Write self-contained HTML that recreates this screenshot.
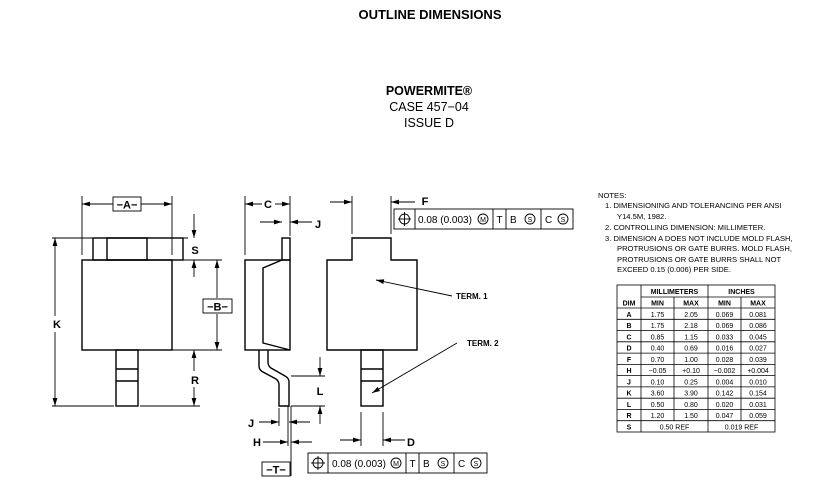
<!DOCTYPE html>
<html><head><meta charset="utf-8"><style>
html,body{margin:0;padding:0;background:#fff;}
svg{display:block;}
text{font-family:"Liberation Sans",Arial,sans-serif;fill:#000;}
</style></head><body>
<svg width="828" height="497" viewBox="0 0 828 497" xmlns="http://www.w3.org/2000/svg">
<defs>
<marker id="a" viewBox="0 0 10 6" refX="10" refY="3" markerWidth="8" markerHeight="5" orient="auto" markerUnits="userSpaceOnUse"><path d="M0,0 L10,3 L0,6z" fill="#000"/></marker>
</defs>
<text x="430" y="19" font-size="13" font-weight="bold" text-anchor="middle">OUTLINE DIMENSIONS</text>
<text x="429" y="95" font-size="12.5" font-weight="bold" text-anchor="middle">POWERMITE®</text>
<text x="429" y="111" font-size="12.5" text-anchor="middle">CASE 457−04</text>
<text x="429" y="127" font-size="12.5" text-anchor="middle">ISSUE D</text>

<g stroke="#000" fill="none" stroke-width="1.4">
<!-- left view -->
<rect x="82" y="260" width="90" height="90"/>
<rect x="93" y="238" width="90" height="22"/>
<rect x="107" y="238" width="40" height="22"/>
<rect x="116" y="350" width="22" height="56"/>
<line x1="116" y1="369" x2="138" y2="369"/><line x1="116" y1="381" x2="138" y2="381"/>
<!-- side view -->
<rect x="245" y="260" width="45" height="90"/>
<rect x="282" y="238" width="8" height="22"/>
<path d="M282,260 L263,268 L263,343 L290,350"/>
<path d="M259,350 L259,366 Q259,370 263,372 L276,379 Q279,381 279,385 L279,406 L289,406 L289,382 Q289,378 285,376 L271,368 Q268,366 268,362 L268,350"/>
<!-- right view -->
<path d="M327,260 L352,260 L352,238 L391,238 L391,260 L417,260 L417,350 L327,350 Z"/>
<rect x="361" y="350" width="22" height="56"/>
<line x1="361" y1="369" x2="383" y2="369"/><line x1="361" y1="381" x2="383" y2="381"/>
</g>

<g stroke="#000" fill="none" stroke-width="0.9">
<!-- A -->
<line x1="82" y1="196" x2="82" y2="255"/><line x1="172" y1="196" x2="172" y2="255"/>
<line x1="113" y1="204" x2="82" y2="204" marker-end="url(#a)"/><line x1="141" y1="204" x2="172" y2="204" marker-end="url(#a)"/>
<!-- K -->
<line x1="52" y1="238" x2="188" y2="238"/>
<line x1="52" y1="406" x2="114" y2="406"/><line x1="140" y1="406" x2="200" y2="406"/>
<line x1="55" y1="316" x2="55" y2="238" marker-end="url(#a)"/><line x1="55" y1="332" x2="55" y2="406" marker-end="url(#a)"/>
<!-- S -->
<line x1="172" y1="260" x2="222" y2="260"/><line x1="172" y1="350" x2="222" y2="350"/>
<line x1="194" y1="214" x2="194" y2="238" marker-end="url(#a)"/><line x1="194" y1="277" x2="194" y2="260" marker-end="url(#a)"/>
<!-- B -->
<line x1="217" y1="298" x2="217" y2="260" marker-end="url(#a)"/><line x1="217" y1="314" x2="217" y2="350" marker-end="url(#a)"/>
<!-- R -->
<line x1="194" y1="371" x2="194" y2="350" marker-end="url(#a)"/><line x1="194" y1="387" x2="194" y2="406" marker-end="url(#a)"/>
<!-- C -->
<line x1="245" y1="196" x2="245" y2="255"/><line x1="290" y1="196" x2="290" y2="236"/>
<line x1="262" y1="204" x2="245" y2="204" marker-end="url(#a)"/><line x1="275" y1="204" x2="290" y2="204" marker-end="url(#a)"/>
<!-- J top -->
<line x1="260" y1="222" x2="282" y2="222" marker-end="url(#a)"/><line x1="312" y1="222" x2="290" y2="222" marker-end="url(#a)"/>
<!-- L -->
<line x1="291" y1="376" x2="325" y2="376"/><line x1="291" y1="406" x2="325" y2="406"/>
<line x1="320" y1="357" x2="320" y2="376" marker-end="url(#a)"/><line x1="320" y1="424" x2="320" y2="406" marker-end="url(#a)"/>
<!-- J bottom, H -->
<line x1="279" y1="408" x2="279" y2="426"/>
<line x1="291" y1="406" x2="291" y2="476"/><line x1="288" y1="406" x2="288" y2="446"/>
<line x1="259" y1="422" x2="279" y2="422" marker-end="url(#a)"/><line x1="310" y1="422" x2="289" y2="422" marker-end="url(#a)"/>
<line x1="263" y1="442" x2="288" y2="442" marker-end="url(#a)"/><line x1="312" y1="442" x2="291" y2="442" marker-end="url(#a)"/>
<!-- F -->
<line x1="352" y1="196" x2="352" y2="234"/><line x1="391" y1="196" x2="391" y2="234"/>
<line x1="330" y1="202" x2="352" y2="202" marker-end="url(#a)"/><line x1="415" y1="202" x2="391" y2="202" marker-end="url(#a)"/>
<!-- D -->
<line x1="361" y1="412" x2="361" y2="446"/><line x1="383" y1="412" x2="383" y2="446"/>
<line x1="340" y1="440" x2="361" y2="440" marker-end="url(#a)"/><line x1="405" y1="440" x2="383" y2="440" marker-end="url(#a)"/>
<!-- TERM leaders -->
<line x1="452" y1="296" x2="376" y2="280" marker-end="url(#a)"/>
<line x1="457" y1="343" x2="372" y2="393" marker-end="url(#a)"/>
</g>

<g stroke="#000" fill="#fff" stroke-width="0.9">
<rect x="113" y="197" width="28" height="14"/>
<rect x="203" y="299" width="29" height="14"/>
<rect x="262" y="462" width="28" height="14"/>
</g>
<g font-size="11" font-weight="bold" text-anchor="middle">
<text x="127" y="208.5">−A−</text>
<text x="217.5" y="310.5">−B−</text>
<text x="276" y="473.5">−T−</text>
<text x="57" y="328">K</text>
<text x="195" y="254">S</text>
<text x="195" y="384">R</text>
<text x="268" y="208">C</text>
<text x="318" y="228">J</text>
<text x="251" y="427">J</text>
<text x="257" y="446">H</text>
<text x="320" y="395">L</text>
<text x="425" y="205">F</text>
<text x="411" y="446">D</text>
</g>
<text x="456" y="299" font-size="8" font-weight="bold">TERM. 1</text>
<text x="467" y="346" font-size="8" font-weight="bold">TERM. 2</text>

<!-- FCF frames -->
<g stroke="#000" fill="none" stroke-width="0.9">
<rect x="394" y="209" width="179" height="20"/>
<line x1="415" y1="209" x2="415" y2="229"/><line x1="493" y1="209" x2="493" y2="229"/><line x1="506" y1="209" x2="506" y2="229"/><line x1="541" y1="209" x2="541" y2="229"/>
<circle cx="404.5" cy="219" r="5"/><line x1="404.5" y1="212" x2="404.5" y2="226"/><line x1="398" y1="219" x2="411" y2="219"/>
<circle cx="483" cy="219" r="5"/><circle cx="530" cy="219" r="5"/><circle cx="563" cy="219" r="5"/>
<rect x="308" y="453" width="179" height="20"/>
<line x1="328" y1="453" x2="328" y2="473"/><line x1="406" y1="453" x2="406" y2="473"/><line x1="419" y1="453" x2="419" y2="473"/><line x1="454" y1="453" x2="454" y2="473"/>
<circle cx="318" cy="463" r="5"/><line x1="318" y1="456" x2="318" y2="470"/><line x1="311" y1="463" x2="325" y2="463"/>
<circle cx="396" cy="463" r="5"/><circle cx="443" cy="463" r="5"/><circle cx="476" cy="463" r="5"/>
</g>
<g font-size="10">
<text x="418" y="223">0.08 (0.003)</text><text x="499.5" y="223" text-anchor="middle">T</text>
<text x="510" y="223">B</text><text x="545" y="223">C</text>
<text x="483" y="222" font-size="7" text-anchor="middle">M</text><text x="530" y="222" font-size="7" text-anchor="middle">S</text><text x="563" y="222" font-size="7" text-anchor="middle">S</text>
<text x="332" y="467">0.08 (0.003)</text><text x="412.5" y="467" text-anchor="middle">T</text>
<text x="423" y="467">B</text><text x="458" y="467">C</text>
<text x="396" y="466" font-size="7" text-anchor="middle">M</text><text x="443" y="466" font-size="7" text-anchor="middle">S</text><text x="476" y="466" font-size="7" text-anchor="middle">S</text>
</g>

<!-- notes -->
<g font-size="7.6">
<text x="598" y="198">NOTES:</text>
<text x="605" y="208">1.  DIMENSIONING AND TOLERANCING PER ANSI</text>
<text x="617" y="219">Y14.5M, 1982.</text>
<text x="605" y="230">2.  CONTROLLING DIMENSION: MILLIMETER.</text>
<text x="605" y="241">3.  DIMENSION A DOES NOT INCLUDE MOLD FLASH,</text>
<text x="617" y="251">PROTRUSIONS OR GATE BURRS. MOLD FLASH,</text>
<text x="617" y="262">PROTRUSIONS OR GATE BURRS SHALL NOT</text>
<text x="617" y="272">EXCEED 0.15 (0.006) PER SIDE.</text>
</g>
<!-- table -->
<g stroke="#000" stroke-width="0.8" fill="none">
<rect x="617" y="285" width="158" height="147"/>
<line x1="641" y1="285" x2="641" y2="432"/>
<line x1="708" y1="285" x2="708" y2="432"/>
<line x1="674" y1="297" x2="674" y2="421"/>
<line x1="741" y1="297" x2="741" y2="421"/>
<line x1="641" y1="297" x2="775" y2="297"/>
<line x1="617" y1="308" x2="775" y2="308"/>
<line x1="617" y1="319.3" x2="775" y2="319.3"/><line x1="617" y1="330.5" x2="775" y2="330.5"/>
<line x1="617" y1="341.8" x2="775" y2="341.8"/><line x1="617" y1="353.1" x2="775" y2="353.1"/>
<line x1="617" y1="364.4" x2="775" y2="364.4"/><line x1="617" y1="375.6" x2="775" y2="375.6"/>
<line x1="617" y1="386.9" x2="775" y2="386.9"/><line x1="617" y1="398.2" x2="775" y2="398.2"/>
<line x1="617" y1="409.5" x2="775" y2="409.5"/><line x1="617" y1="420.7" x2="775" y2="420.7"/>
</g>
<g font-size="7" text-anchor="middle">
<g font-weight="bold">
<text x="674.5" y="294">MILLIMETERS</text><text x="741.5" y="294">INCHES</text>
<text x="629" y="305.5">DIM</text><text x="657.5" y="305.5">MIN</text><text x="691" y="305.5">MAX</text><text x="724.5" y="305.5">MIN</text><text x="758" y="305.5">MAX</text>
<text x="629" y="317">A</text><text x="629" y="328">B</text><text x="629" y="339.5">C</text><text x="629" y="350.5">D</text><text x="629" y="362">F</text><text x="629" y="373">H</text><text x="629" y="384.5">J</text><text x="629" y="395.5">K</text><text x="629" y="407">L</text><text x="629" y="418">R</text><text x="629" y="429.5">S</text>
</g>
<text x="657.5" y="317">1.75</text><text x="691" y="317">2.05</text><text x="724.5" y="317">0.069</text><text x="758" y="317">0.081</text>
<text x="657.5" y="328">1.75</text><text x="691" y="328">2.18</text><text x="724.5" y="328">0.069</text><text x="758" y="328">0.086</text>
<text x="657.5" y="339.5">0.85</text><text x="691" y="339.5">1.15</text><text x="724.5" y="339.5">0.033</text><text x="758" y="339.5">0.045</text>
<text x="657.5" y="350.5">0.40</text><text x="691" y="350.5">0.69</text><text x="724.5" y="350.5">0.016</text><text x="758" y="350.5">0.027</text>
<text x="657.5" y="362">0.70</text><text x="691" y="362">1.00</text><text x="724.5" y="362">0.028</text><text x="758" y="362">0.039</text>
<text x="657.5" y="373">−0.05</text><text x="691" y="373">+0.10</text><text x="724.5" y="373">−0.002</text><text x="758" y="373">+0.004</text>
<text x="657.5" y="384.5">0.10</text><text x="691" y="384.5">0.25</text><text x="724.5" y="384.5">0.004</text><text x="758" y="384.5">0.010</text>
<text x="657.5" y="395.5">3.60</text><text x="691" y="395.5">3.90</text><text x="724.5" y="395.5">0.142</text><text x="758" y="395.5">0.154</text>
<text x="657.5" y="407">0.50</text><text x="691" y="407">0.80</text><text x="724.5" y="407">0.020</text><text x="758" y="407">0.031</text>
<text x="657.5" y="418">1.20</text><text x="691" y="418">1.50</text><text x="724.5" y="418">0.047</text><text x="758" y="418">0.059</text>
<text x="674.5" y="429.5">0.50 REF</text><text x="741.5" y="429.5">0.019 REF</text>
</g>
</svg>
</body></html>
